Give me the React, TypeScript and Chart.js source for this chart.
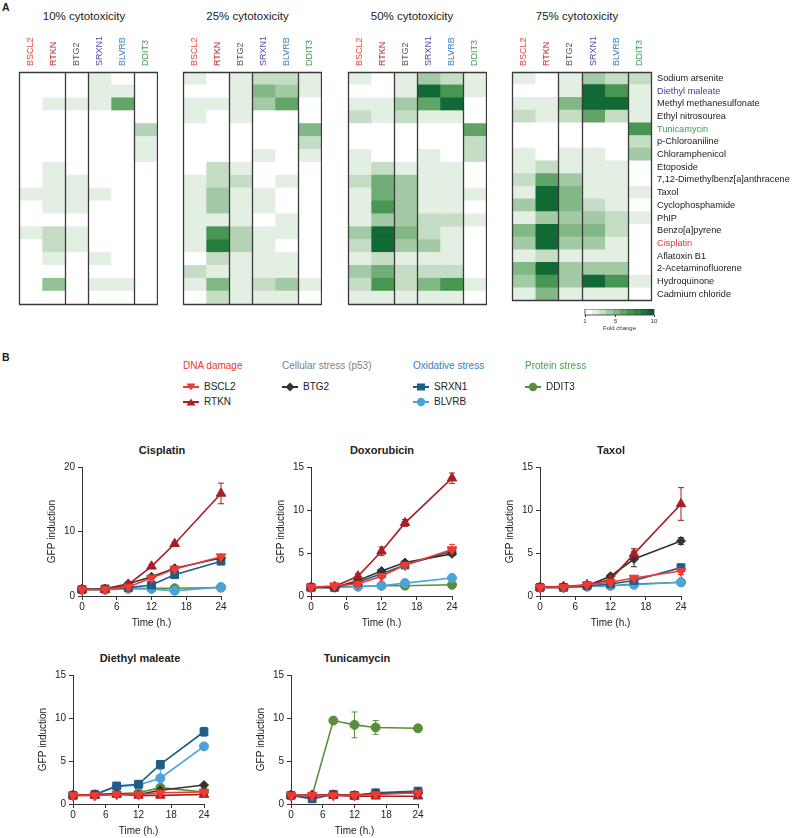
import React, { useEffect, useRef } from 'react';
import { Chart, registerables } from 'chart.js';
Chart.register(...registerables);

const FONT = '"Liberation Sans", Arial, Helvetica, sans-serif';

// ---------------- Panel A data ----------------
const genes = ['BSCL2', 'RTKN', 'BTG2', 'SRXN1', 'BLVRB', 'DDIT3'];
const geneLabelColors = ['#e8463c', '#c0282d', '#555555', '#4b4ba3', '#3b82c9', '#3aa04a'];
const compounds = [
  'Sodium arsenite', 'Diethyl maleate', 'Methyl methanesulfonate', 'Ethyl nitrosourea',
  'Tunicamycin', 'p-Chloroaniline', 'Chloramphenicol', 'Etoposide',
  '7,12-Dimethylbenz[a]anthracene', 'Taxol', 'Cyclophosphamide', 'PhIP',
  'Benzo[a]pyrene', 'Cisplatin', 'Aflatoxin B1', '2-Acetaminofluorene',
  'Hydroquinone', 'Cadmium chloride',
];
const compoundLabelColors = [
  '#1a1a1a', '#3d3d9c', '#1a1a1a', '#1a1a1a', '#3aa04a', '#1a1a1a', '#1a1a1a', '#1a1a1a',
  '#1a1a1a', '#1a1a1a', '#1a1a1a', '#1a1a1a', '#1a1a1a', '#e8392f', '#1a1a1a', '#1a1a1a',
  '#1a1a1a', '#1a1a1a',
];
const cytotoxicityTitles = ['10% cytotoxicity', '25% cytotoxicity', '50% cytotoxicity', '75% cytotoxicity'];

// fold change per compound (row) x gene (column)
const fold10 = [
  [1, 1, 1, 2, 1, 1], [1, 1, 1, 2, 2, 1], [1, 2, 2, 2, 6, 1], [1, 1, 1, 1, 1, 1],
  [1, 1, 1, 1, 1, 3.5], [1, 1, 1, 1, 1, 2], [1, 1, 1, 1, 1, 2], [1, 2, 1, 1, 1, 1],
  [1, 2, 2, 1, 1, 1], [2, 2, 2, 2, 1, 1], [1, 2, 2, 1, 1, 1], [1, 1, 1, 1, 1, 1],
  [2, 3, 2, 1, 1, 1], [1, 3, 2, 1, 1, 1], [1, 2, 1, 2, 1, 1], [1, 1, 1, 1, 1, 1],
  [1, 4.5, 1, 2, 2, 1], [1, 1, 1, 1, 1, 1],
];
const fold25 = [
  [2, 1, 2, 3, 3, 2], [1, 1, 2, 5, 4, 2], [2, 2, 2, 4, 6, 1], [2, 1, 2, 1, 1, 1],
  [1, 1, 1, 1, 1, 5], [1, 1, 1, 1, 1, 3], [1, 1, 1, 2, 1, 2], [1, 3, 2, 1, 1, 1],
  [2, 3, 3, 1, 2, 1], [2, 4, 2, 2, 1, 1], [2, 4, 2, 2, 1, 1], [2, 2, 2, 1, 2, 1],
  [2, 7, 3.5, 2, 2, 1], [2, 8.5, 3.5, 2, 1, 1], [1, 3, 2, 2, 2, 1], [3, 2, 2, 2, 2, 1],
  [2, 5, 2, 3, 4, 2], [1, 3, 2, 2, 2, 1],
];
const fold50 = [
  [2, 1, 2, 4, 3, 2], [1, 1, 2, 9.5, 7, 2], [2, 2, 4, 6, 9.5, 1], [3, 2, 3, 2, 2, 1],
  [1, 1, 1, 1, 1, 6], [1, 1, 1, 1, 1, 3], [2, 1, 1, 2, 1, 3], [2, 3, 2, 2, 2, 1],
  [3, 5.5, 4, 2, 2, 1], [2, 5.5, 4, 2, 2, 2], [2, 7, 4, 2, 2, 1], [2, 4, 4, 3, 3, 2],
  [4, 9.5, 5, 3, 2, 1], [3, 9.5, 4, 4, 2, 1], [2, 3, 2, 2, 2, 1], [4, 5.5, 3, 3, 3, 1],
  [3, 7, 3, 5, 7, 2], [2, 2, 2, 2, 2, 1],
];
const fold75 = [
  [2, 1, 2, 4, 3, 3], [1, 1, 2, 9.5, 7, 2], [2, 2, 5, 9.5, 9.5, 2], [3, 2, 3, 6, 3, 2],
  [1, 1, 1, 1, 1, 7], [1, 1, 1, 1, 1, 3], [2, 1, 2, 2, 1, 4], [2, 3, 2, 2, 2, 1],
  [3, 6, 4, 2, 2, 1], [2, 9.5, 5, 2, 2, 2], [4, 9.5, 5, 3, 2, 1], [2, 4, 4, 4, 3, 2],
  [5, 9.5, 5, 5, 3, 1], [4, 9.5, 4, 4, 2, 1], [2, 3, 2, 2, 2, 1], [5, 9.5, 4, 4, 4, 1],
  [4, 7, 4, 9.5, 7, 2], [2, 5, 2, 2, 2, 1],
];
const foldTicks = [1, 5, 10];
const foldScaleSteps = [1, 2, 3, 4, 5, 6, 7, 8, 9, 10];

// ---------------- Panel B data ----------------
const hours = [0, 4, 8, 12, 16, 24];
// order of rows: BSCL2, RTKN, BTG2, SRXN1, BLVRB, DDIT3
const cisplatinMean = [
  [1.0, 1.0, 1.4, 2.8, 4.2, 6.1],
  [1.0, 1.0, 1.8, 4.6, 8.1, 15.9],
  [1.0, 1.1, 1.9, 3.0, 4.3, 5.9],
  [1.0, 1.1, 1.3, 1.7, 3.3, 5.4],
  [1.0, 1.0, 1.1, 1.1, 0.8, 1.4],
  [1.0, 1.0, 1.2, 1.2, 1.2, 1.3],
];
const cisplatinErr = [
  [0.1, 0.1, 0.1, 0.2, 0.3, 0.3],
  [0.1, 0.1, 0.2, 0.3, 0.3, 1.6],
  [0.1, 0.2, 0.3, 0.2, 0.2, 0.3],
  [0.1, 0.1, 0.1, 0.2, 0.2, 0.2],
  [0.1, 0.1, 0.1, 0.1, 0.1, 0.1],
  [0.1, 0.1, 0.1, 0.1, 0.1, 0.1],
];
const doxorubicinMean = [
  [1.0, 1.2, 1.4, 2.3, 3.6, 5.4],
  [1.0, 1.1, 2.3, 5.2, 8.5, 13.7],
  [1.0, 1.0, 1.8, 2.9, 3.9, 4.9],
  [1.0, 1.0, 1.6, 2.6, 3.6, 5.2],
  [1.0, 1.0, 1.1, 1.2, 1.5, 2.1],
  [1.0, 1.0, 1.1, 1.2, 1.2, 1.3],
];
const doxorubicinErr = [
  [0.1, 0.1, 0.1, 0.2, 0.2, 0.6],
  [0.1, 0.1, 0.3, 0.5, 0.4, 0.6],
  [0.1, 0.1, 0.2, 0.2, 0.2, 0.2],
  [0.1, 0.1, 0.1, 0.2, 0.2, 0.2],
  [0.1, 0.1, 0.1, 0.1, 0.1, 0.1],
  [0.1, 0.1, 0.1, 0.1, 0.1, 0.1],
];
const taxolMean = [
  [1.0, 1.0, 1.3, 1.6, 2.1, 2.9],
  [1.0, 1.1, 1.3, 1.9, 4.9, 10.7],
  [1.0, 1.1, 1.2, 2.3, 4.3, 6.4],
  [1.0, 1.0, 1.2, 1.4, 1.8, 3.3],
  [1.0, 1.0, 1.1, 1.2, 1.3, 1.6],
  [1.0, 1.0, 1.1, 1.2, 1.4, 1.6],
];
const taxolErr = [
  [0.1, 0.1, 0.1, 0.1, 0.2, 0.4],
  [0.1, 0.1, 0.1, 0.2, 0.6, 1.9],
  [0.1, 0.1, 0.1, 0.2, 0.9, 0.4],
  [0.1, 0.1, 0.1, 0.1, 0.1, 0.2],
  [0.1, 0.1, 0.1, 0.1, 0.1, 0.1],
  [0.1, 0.1, 0.1, 0.1, 0.1, 0.1],
];
const diethylMaleateMean = [
  [1.0, 1.0, 1.1, 1.1, 1.3, 1.4],
  [1.0, 1.0, 1.1, 1.0, 1.0, 1.1],
  [1.0, 1.1, 1.2, 1.1, 1.6, 2.2],
  [1.0, 1.1, 2.1, 2.3, 4.6, 8.4],
  [1.0, 1.1, 2.0, 2.2, 3.0, 6.7],
  [1.0, 1.1, 1.2, 1.3, 1.9, 1.4],
];
const diethylMaleateErr = [
  [0.1, 0.1, 0.1, 0.1, 0.1, 0.1],
  [0.1, 0.1, 0.1, 0.1, 0.1, 0.1],
  [0.1, 0.1, 0.1, 0.1, 0.2, 0.2],
  [0.1, 0.1, 0.2, 0.2, 0.4, 0.5],
  [0.1, 0.1, 0.1, 0.2, 1.0, 0.2],
  [0.1, 0.1, 0.1, 0.1, 0.2, 0.1],
];
const tunicamycinMean = [
  [1.0, 1.0, 1.0, 1.0, 1.1, 1.3],
  [1.0, 1.0, 1.0, 0.9, 0.9, 0.9],
  [1.0, 1.0, 1.1, 1.0, 1.2, 1.3],
  [1.0, 0.6, 1.1, 1.0, 1.3, 1.5],
  [1.0, 0.9, 1.1, 1.0, 1.2, 1.4],
  [1.0, 1.0, 9.7, 9.2, 8.9, 8.8],
];
const tunicamycinErr = [
  [0.1, 0.1, 0.1, 0.1, 0.1, 0.1],
  [0.1, 0.1, 0.1, 0.1, 0.1, 0.1],
  [0.1, 0.1, 0.1, 0.1, 0.1, 0.1],
  [0.1, 0.1, 0.1, 0.1, 0.1, 0.1],
  [0.1, 0.1, 0.1, 0.1, 0.1, 0.1],
  [0.1, 0.1, 0.3, 1.5, 0.8, 0.35],
];

// ---------------- styles ----------------
const geneStyles = [
  { color: '#ee3b33', pointStyle: 'triangle', rotation: 180, radius: 5.5 },
  { color: '#a51f24', pointStyle: 'triangle', rotation: 0, radius: 5.5 },
  { color: '#333333', pointStyle: 'rectRot', rotation: 0, radius: 4.5 },
  { color: '#1f5c88', pointStyle: 'rect', rotation: 0, radius: 5.5 },
  { color: '#4ba3d9', pointStyle: 'circle', rotation: 0, radius: 4.5 },
  { color: '#5b8e3c', pointStyle: 'circle', rotation: 0, radius: 4.5 },
];

const foldStops: [number, number[]][] = [
  [1, [255, 255, 255]], [2, [227, 239, 227]], [3, [197, 220, 197]], [4, [164, 202, 165]],
  [5, [130, 183, 134]], [6, [96, 164, 103]], [7.5, [58, 143, 70]], [9.5, [17, 106, 53]],
  [10, [12, 99, 48]],
];
function foldColor(v: number) {
  for (let i = 0; i < foldStops.length - 1; i++) {
    const [a, ca] = foldStops[i];
    const [b, cb] = foldStops[i + 1];
    if (v <= b) {
      const t = Math.max(0, (v - a) / (b - a));
      const c = ca.map((x, k) => Math.round(x + (cb[k] - x) * t));
      return `rgb(${c[0]},${c[1]},${c[2]})`;
    }
  }
  return 'rgb(12,99,48)';
}

// ---------------- components ----------------
const HEAT_TOP = 72;
const HEAT_H = 232;
const HEAT_W = 140;
const HEAT_HEADER = 40;
const ROW_LABEL_W = 150;

function Heatmap({ values, left, withRows }: { values: number[][]; left: number; withRows: boolean }) {
  const ref = useRef<HTMLCanvasElement>(null);
  const width = HEAT_W + (withRows ? ROW_LABEL_W : 0);
  const height = HEAT_HEADER + HEAT_H + 8;
  useEffect(() => {
    const decor = {
      id: 'heatDecor',
      afterDraw(chart: any) {
        const { ctx, chartArea: a, scales } = chart;
        const x = scales.x;
        ctx.save();
        ctx.strokeStyle = '#3a3a3a';
        ctx.lineWidth = 1.3;
        ctx.beginPath();
        [0, 2, 3, 5, 6].forEach((v) => {
          const px = Math.round(x.getPixelForValue(v)) + 0.5;
          ctx.moveTo(px, a.top);
          ctx.lineTo(px, a.bottom);
        });
        ctx.moveTo(a.left, Math.round(a.top) + 0.5);
        ctx.lineTo(a.right + 1, Math.round(a.top) + 0.5);
        ctx.moveTo(a.left, Math.round(a.bottom) + 0.5);
        ctx.lineTo(a.right + 1, Math.round(a.bottom) + 0.5);
        ctx.stroke();
        ctx.font = `9px ${FONT}`;
        ctx.textAlign = 'left';
        ctx.textBaseline = 'middle';
        genes.forEach((g, i) => {
          const px = x.getPixelForValue(i + 0.5);
          ctx.save();
          ctx.translate(px, a.top - 6);
          ctx.rotate(-Math.PI / 2);
          ctx.fillStyle = geneLabelColors[i];
          ctx.fillText(g, 0, 0);
          ctx.restore();
        });
        ctx.restore();
      },
    };
    const chart = new Chart(ref.current as HTMLCanvasElement, {
      type: 'bar',
      data: {
        labels: compounds,
        datasets: genes.map((g, c) => ({
          label: g,
          data: compounds.map(() => [c, c + 1]),
          backgroundColor: values.map((row) => foldColor(row[c])),
          borderWidth: 0,
          grouped: false,
          categoryPercentage: 1,
          barPercentage: 1,
        })) as any,
      },
      options: {
        indexAxis: 'y',
        animation: false,
        responsive: false,
        events: [],
        layout: { padding: { top: 0, left: 1, right: withRows ? 0 : 1, bottom: 8 } },
        plugins: { legend: { display: false }, tooltip: { enabled: false } },
        scales: {
          x: {
            type: 'linear', position: 'top', min: 0, max: 6,
            grid: { display: false }, border: { display: false }, ticks: { display: false },
            afterFit: (s: any) => { s.height = HEAT_HEADER; },
          },
          y: {
            type: 'category', position: 'right', display: withRows,
            grid: { display: false, drawTicks: false, tickLength: 0 }, border: { display: false },
            ticks: {
              autoSkip: false, padding: 6,
              font: { size: 9.2, family: FONT },
              color: (ctx: any) => compoundLabelColors[ctx.index],
            },
            afterFit: (s: any) => { s.width = withRows ? ROW_LABEL_W : 0; },
          },
        },
      } as any,
      plugins: [decor],
    });
    return () => chart.destroy();
  }, []);
  return (
    <canvas ref={ref} width={width} height={height}
      style={{ position: 'absolute', left: left - 1, top: HEAT_TOP - HEAT_HEADER, width, height }} />
  );
}

function FoldBar() {
  const ref = useRef<HTMLCanvasElement>(null);
  useEffect(() => {
    const frame = {
      id: 'frame',
      afterDraw(chart: any) {
        const { ctx, chartArea: a } = chart;
        ctx.save();
        ctx.strokeStyle = '#333';
        ctx.lineWidth = 0.8;
        ctx.strokeRect(a.left, a.top, a.right - a.left, a.bottom - a.top);
        ctx.restore();
      },
    };
    const w = 9 / foldScaleSteps.length;
    const chart = new Chart(ref.current as HTMLCanvasElement, {
      type: 'bar',
      data: {
        labels: ['fold'],
        datasets: foldScaleSteps.map((v, i) => ({
          data: [[1 + i * w, 1 + (i + 1) * w]],
          backgroundColor: foldColor(v),
          borderWidth: 0, grouped: false, categoryPercentage: 1, barPercentage: 1,
        })) as any,
      },
      options: {
        indexAxis: 'y', animation: false, responsive: false, events: [],
        layout: { padding: { left: 10, right: 11, top: 0, bottom: 0 } },
        plugins: { legend: { display: false }, tooltip: { enabled: false } },
        scales: {
          x: {
            type: 'linear', min: 1, max: 10,
            afterBuildTicks: (s: any) => { s.ticks = foldTicks.map((v) => ({ value: v })); },
            ticks: { font: { size: 6, family: FONT }, color: '#333', padding: 1, maxRotation: 0 },
            grid: { display: true, drawOnChartArea: false, drawTicks: true, tickLength: 2, color: '#333' },
            border: { display: false },
            title: { display: true, text: 'Fold change', font: { size: 6, family: FONT }, color: '#333', padding: 0 },
            afterFit: (s: any) => { s.height = 17; },
          },
          y: { display: false },
        },
      } as any,
      plugins: [frame],
    });
    return () => chart.destroy();
  }, []);
  return <canvas ref={ref} width={90} height={23} style={{ position: 'absolute', left: 575, top: 309, width: 90, height: 23 }} />;
}

type LineCfg = {
  title: string; mean: number[][]; err: number[][];
  left: number; top: number; w: number; h: number; yMax: number; yStep: number;
  titleX: number; titleY: number;
};

const lineCharts: LineCfg[] = [
  { title: 'Cisplatin', mean: cisplatinMean, err: cisplatinErr, left: 82, top: 467, w: 139, h: 129, yMax: 20, yStep: 10, titleX: 162, titleY: 450 },
  { title: 'Doxorubicin', mean: doxorubicinMean, err: doxorubicinErr, left: 311, top: 467, w: 141, h: 129, yMax: 15, yStep: 5, titleX: 382, titleY: 450 },
  { title: 'Taxol', mean: taxolMean, err: taxolErr, left: 540, top: 467, w: 141, h: 129, yMax: 15, yStep: 5, titleX: 611, titleY: 450 },
  { title: 'Diethyl maleate', mean: diethylMaleateMean, err: diethylMaleateErr, left: 73, top: 675, w: 131, h: 129, yMax: 15, yStep: 5, titleX: 140, titleY: 658 },
  { title: 'Tunicamycin', mean: tunicamycinMean, err: tunicamycinErr, left: 291, top: 675, w: 127, h: 129, yMax: 15, yStep: 5, titleX: 357, titleY: 658 },
];

const Y_AXIS_W = 36;
const X_AXIS_H = 33;

function LineChart({ cfg }: { cfg: LineCfg }) {
  const ref = useRef<HTMLCanvasElement>(null);
  const width = cfg.w + Y_AXIS_W + 12;
  const height = cfg.h + 10 + X_AXIS_H + 2;
  useEffect(() => {
    const errorBars = {
      id: 'errorBars',
      beforeDatasetsDraw(chart: any) {
        const { ctx, scales } = chart;
        const x = scales.x, y = scales.y;
        chart.data.datasets.forEach((ds: any) => {
          ctx.save();
          ctx.strokeStyle = ds.borderColor;
          ctx.lineWidth = 1;
          ds.data.forEach((p: any, i: number) => {
            const e = ds.errors[i];
            if (!e) return;
            const px = x.getPixelForValue(p.x);
            const y1 = y.getPixelForValue(p.y + e);
            const y2 = y.getPixelForValue(p.y - e);
            ctx.beginPath();
            ctx.moveTo(px, y1); ctx.lineTo(px, y2);
            ctx.moveTo(px - 3, y1); ctx.lineTo(px + 3, y1);
            ctx.moveTo(px - 3, y2); ctx.lineTo(px + 3, y2);
            ctx.stroke();
          });
          ctx.restore();
        });
      },
    };
    const axisBase = {
      grid: { display: true, drawOnChartArea: false, drawTicks: true, tickLength: 4, color: '#333', lineWidth: 1 },
      border: { display: true, color: '#333', width: 1 },
    };
    const chart = new Chart(ref.current as HTMLCanvasElement, {
      type: 'line',
      data: {
        datasets: genes.map((g, gi) => ({
          label: g,
          data: hours.map((t, i) => ({ x: t, y: cfg.mean[gi][i] })),
          errors: cfg.err[gi],
          borderColor: geneStyles[gi].color,
          backgroundColor: geneStyles[gi].color,
          pointBackgroundColor: geneStyles[gi].color,
          pointBorderColor: geneStyles[gi].color,
          pointStyle: geneStyles[gi].pointStyle,
          pointRotation: geneStyles[gi].rotation,
          pointRadius: geneStyles[gi].radius,
          pointBorderWidth: 1,
          borderWidth: 1.6,
          tension: 0,
          clip: false,
        })) as any,
      },
      options: {
        animation: false, responsive: false, events: [],
        layout: { padding: { top: 10, right: 12, left: 0, bottom: 2 } },
        plugins: { legend: { display: false }, tooltip: { enabled: false } },
        scales: {
          x: {
            type: 'linear', min: 0, max: 24,
            ticks: { stepSize: 6, font: { size: 10, family: FONT }, color: '#222', padding: 1, maxRotation: 0 },
            ...axisBase,
            title: { display: true, text: 'Time (h.)', font: { size: 10, family: FONT }, color: '#222', padding: 0 },
            afterFit: (s: any) => { s.height = X_AXIS_H; },
          },
          y: {
            type: 'linear', min: 0, max: cfg.yMax,
            ticks: { stepSize: cfg.yStep, font: { size: 10, family: FONT }, color: '#222', padding: 3 },
            ...axisBase,
            title: { display: true, text: 'GFP induction', font: { size: 10, family: FONT }, color: '#222', padding: 0 },
            afterFit: (s: any) => { s.width = Y_AXIS_W; },
          },
        },
      } as any,
      plugins: [errorBars],
    });
    return () => chart.destroy();
  }, []);
  return (
    <canvas ref={ref} width={width} height={height}
      style={{ position: 'absolute', left: cfg.left - Y_AXIS_W, top: cfg.top - 10, width, height }} />
  );
}

function Txt({ x, y, text, size = 10, weight = 400, color = '#222', anchor = 'center' }:
  { x: number; y: number; text: string; size?: number; weight?: number; color?: string; anchor?: string }) {
  return (
    <div style={{
      position: 'absolute', left: x, top: y, fontSize: size, fontWeight: weight, color,
      lineHeight: 1, whiteSpace: 'nowrap',
      transform: anchor === 'center' ? 'translate(-50%, -50%)' : 'translate(0, -50%)',
    }}>{text}</div>
  );
}

function LegendMarker({ x, y, gi }: { x: number; y: number; gi: number }) {
  const st = geneStyles[gi];
  const c = st.color;
  let shape: React.ReactNode = null;
  if (st.pointStyle === 'triangle' && st.rotation === 180) shape = <polygon points="3.5,1.5 12.5,1.5 8,8.5" fill={c} />;
  else if (st.pointStyle === 'triangle') shape = <polygon points="3.5,8.5 12.5,8.5 8,1.5" fill={c} />;
  else if (st.pointStyle === 'rectRot') shape = <polygon points="8,0.5 12.5,5 8,9.5 3.5,5" fill={c} />;
  else if (st.pointStyle === 'rect') shape = <rect x={4} y={1.5} width={8} height={7} fill={c} />;
  else shape = <circle cx={8} cy={5} r={4.2} fill={c} />;
  return (
    <svg width={16} height={10} style={{ position: 'absolute', left: x, top: y - 5 }}>
      <line x1={0} y1={5} x2={16} y2={5} stroke={c} strokeWidth={2} />
      {shape}
    </svg>
  );
}

const legendGroups = [
  { title: 'DNA damage', color: '#e8392f', x: 183, genes: [0, 1] },
  { title: 'Cellular stress (p53)', color: '#7f7f7f', x: 282, genes: [2] },
  { title: 'Oxidative stress', color: '#3a7bbf', x: 413, genes: [3, 4] },
  { title: 'Protein stress', color: '#45a04f', x: 525, genes: [5] },
];

export default function App() {
  const heatLefts = [19, 183, 348, 512];
  const heatValues = [fold10, fold25, fold50, fold75];
  const titleXs = [84, 247.5, 412, 577];
  return (
    <div style={{
      position: 'fixed', left: 0, top: 0, width: 798, height: 838, background: '#fff',
      fontFamily: FONT, color: '#222', overflow: 'hidden',
    }}>
      <Txt x={2} y={7} text="A" size={10.5} weight={700} anchor="left" />
      <Txt x={2} y={357} text="B" size={10.5} weight={700} anchor="left" />
      {cytotoxicityTitles.map((t, i) => (
        <Txt key={t} x={titleXs[i]} y={17} text={t} size={11.5} />
      ))}
      {heatValues.map((v, i) => (
        <Heatmap key={i} values={v} left={heatLefts[i]} withRows={i === 3} />
      ))}
      <FoldBar />
      {legendGroups.map((g) => (
        <React.Fragment key={g.title}>
          <Txt x={g.x} y={366} text={g.title} size={10} color={g.color} anchor="left" />
          {g.genes.map((gi, k) => (
            <React.Fragment key={gi}>
              <LegendMarker x={g.x} y={387 + k * 15} gi={gi} />
              <Txt x={g.x + 21} y={387 + k * 15} text={genes[gi]} size={10} color="#222" anchor="left" />
            </React.Fragment>
          ))}
        </React.Fragment>
      ))}
      {lineCharts.map((cfg) => (
        <React.Fragment key={cfg.title}>
          <Txt x={cfg.titleX} y={cfg.titleY} text={cfg.title} size={11} weight={700} />
          <LineChart cfg={cfg} />
        </React.Fragment>
      ))}
    </div>
  );
}
